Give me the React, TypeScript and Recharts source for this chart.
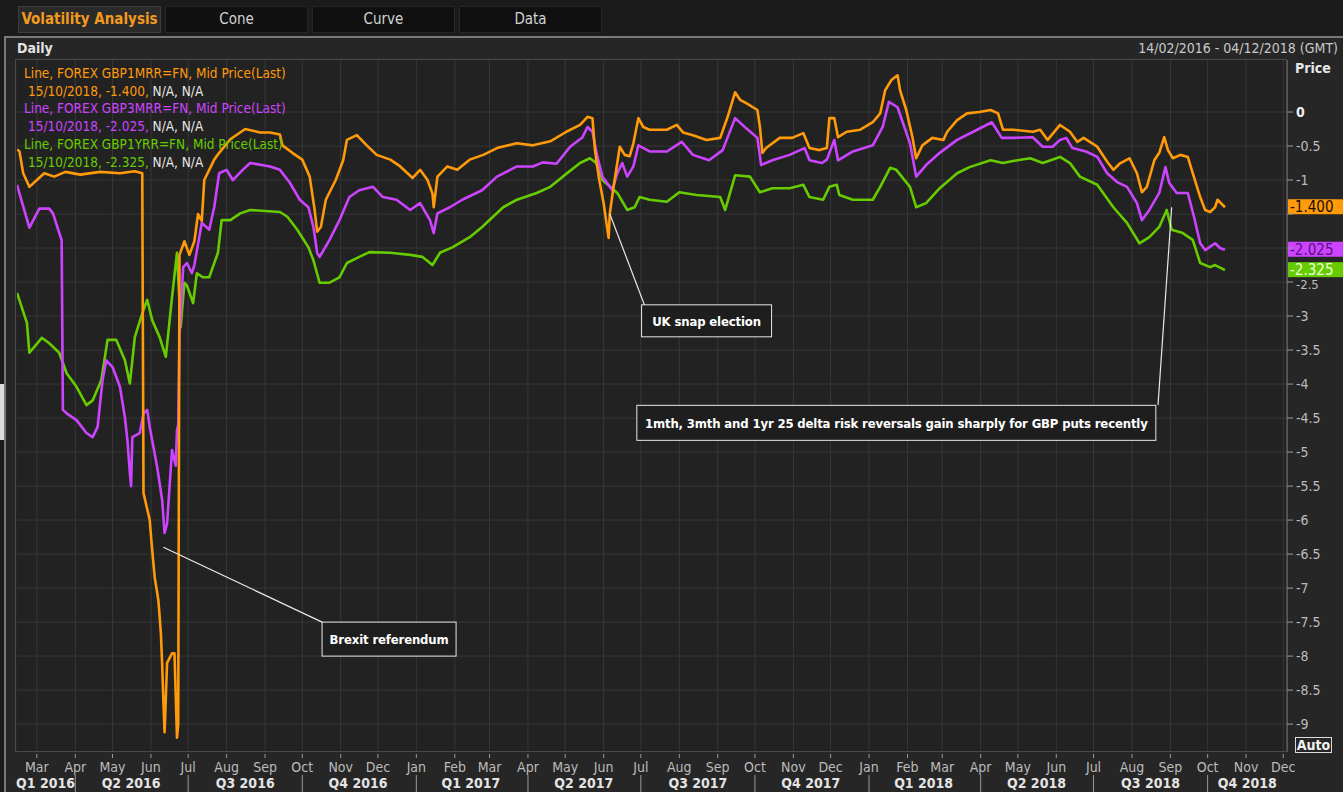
import { LineChart, Line, XAxis, YAxis, CartesianGrid, ReferenceLine, ReferenceDot } from 'recharts';

// GBP 1M risk reversal (FOREX GBP1MRR=FN)
const gbp1mDates = [
    '2016-02-14', '2016-02-16', '2016-02-19', '2016-02-24', '2016-03-01', '2016-03-07', '2016-03-15', '2016-03-24',
    '2016-04-05', '2016-04-21', '2016-05-07', '2016-05-19', '2016-05-25', '2016-05-26', '2016-05-31', '2016-06-02',
    '2016-06-04', '2016-06-07', '2016-06-09', '2016-06-10', '2016-06-11', '2016-06-12', '2016-06-14', '2016-06-18',
    '2016-06-20', '2016-06-22', '2016-06-23', '2016-06-24', '2016-06-28', '2016-07-02', '2016-07-06', '2016-07-09',
    '2016-07-12', '2016-07-14', '2016-07-18', '2016-07-22', '2016-07-26', '2016-08-04', '2016-08-16', '2016-08-28',
    '2016-09-05', '2016-09-13', '2016-09-15', '2016-09-23', '2016-10-01', '2016-10-07', '2016-10-11', '2016-10-13',
    '2016-10-16', '2016-10-20', '2016-10-28', '2016-11-03', '2016-11-06', '2016-11-14', '2016-11-22', '2016-11-30',
    '2016-12-11', '2016-12-19', '2016-12-29', '2017-01-04', '2017-01-10', '2017-01-14', '2017-01-15', '2017-01-18',
    '2017-01-26', '2017-02-03', '2017-02-13', '2017-02-24', '2017-03-07', '2017-03-23', '2017-04-05', '2017-04-19',
    '2017-05-02', '2017-05-13', '2017-05-19', '2017-05-23', '2017-05-25', '2017-05-28', '2017-06-01', '2017-06-05',
    '2017-06-06', '2017-06-09', '2017-06-12', '2017-06-14', '2017-06-18', '2017-06-22', '2017-06-25', '2017-06-29',
    '2017-07-03', '2017-07-08', '2017-07-22', '2017-07-30', '2017-08-04', '2017-08-12', '2017-08-23', '2017-09-03',
    '2017-09-09', '2017-09-15', '2017-09-19', '2017-09-24', '2017-10-03', '2017-10-05', '2017-10-07', '2017-10-10',
    '2017-10-21', '2017-10-31', '2017-11-09', '2017-11-14', '2017-11-22', '2017-11-28', '2017-11-30', '2017-12-04',
    '2017-12-07', '2017-12-14', '2017-12-25', '2018-01-04', '2018-01-10', '2018-01-14', '2018-01-19', '2018-01-24',
    '2018-01-26', '2018-01-31', '2018-02-05', '2018-02-08', '2018-02-13', '2018-02-21', '2018-03-02', '2018-03-05',
    '2018-03-13', '2018-03-21', '2018-03-31', '2018-04-09', '2018-04-15', '2018-04-19', '2018-04-27', '2018-05-13',
    '2018-05-19', '2018-05-25', '2018-06-04', '2018-06-12', '2018-06-18', '2018-06-23', '2018-07-04', '2018-07-12',
    '2018-07-17', '2018-07-22', '2018-07-30', '2018-08-05', '2018-08-09', '2018-08-13', '2018-08-19', '2018-08-23',
    '2018-08-27', '2018-08-30', '2018-09-03', '2018-09-09', '2018-09-15', '2018-09-19', '2018-09-25', '2018-09-29',
    '2018-10-03', '2018-10-07', '2018-10-09', '2018-10-15',
];
const gbp1mValues = [
    -0.55, -0.58, -0.9, -1.1, -1.0, -0.9, -0.95, -0.88,
    -0.92, -0.88, -0.9, -0.87, -0.9, -5.6, -6.0, -6.44,
    -6.84, -7.18, -7.66, -8.1, -8.65, -9.12, -8.1, -7.96,
    -7.96, -9.2, -9.0, -2.1, -1.9, -2.1, -1.9, -1.5,
    -1.6, -1.0, -0.85, -0.7, -0.6, -0.4, -0.25, -0.3,
    -0.3, -0.33, -0.49, -0.6, -0.7, -0.95, -1.44, -1.76,
    -1.69, -1.29, -1.0, -0.71, -0.41, -0.34, -0.49, -0.63,
    -0.7, -0.8, -0.97, -0.85, -1.0, -1.2, -1.4, -0.95,
    -0.8, -0.85, -0.7, -0.63, -0.53, -0.46, -0.49, -0.43,
    -0.29, -0.19, -0.07, -0.09, -0.56, -0.95, -1.34, -1.85,
    -1.49, -1.1, -0.75, -0.51, -0.63, -0.65, -0.46, -0.09,
    -0.22, -0.26, -0.26, -0.19, -0.3, -0.34, -0.41, -0.38,
    -0.07, 0.29, 0.18, 0.13, 0.03, -0.22, -0.6, -0.53,
    -0.38, -0.38, -0.31, -0.53, -0.56, -0.53, -0.09, -0.09,
    -0.37, -0.29, -0.26, -0.15, -0.02, 0.32, 0.47, 0.54,
    0.32, 0.03, -0.37, -0.68, -0.49, -0.38, -0.41, -0.29,
    -0.12, -0.02, 0.0, 0.03, -0.02, -0.26, -0.26, -0.29,
    -0.26, -0.41, -0.19, -0.29, -0.44, -0.38, -0.51, -0.73,
    -0.85, -0.76, -0.68, -0.9, -1.18, -1.1, -0.71, -0.6,
    -0.37, -0.56, -0.68, -0.63, -0.66, -0.9, -1.25, -1.44,
    -1.47, -1.4, -1.29, -1.4,
];

// GBP 3M risk reversal (FOREX GBP3MRR=FN)
const gbp3mDates = [
    '2016-02-14', '2016-02-16', '2016-02-24', '2016-03-03', '2016-03-11', '2016-03-14', '2016-03-20', '2016-03-21',
    '2016-03-22', '2016-03-25', '2016-04-02', '2016-04-10', '2016-04-15', '2016-04-19', '2016-04-23', '2016-04-26',
    '2016-05-01', '2016-05-07', '2016-05-11', '2016-05-13', '2016-05-15', '2016-05-16', '2016-05-17', '2016-05-23',
    '2016-05-26', '2016-05-29', '2016-05-31', '2016-06-06', '2016-06-10', '2016-06-12', '2016-06-14', '2016-06-16',
    '2016-06-18', '2016-06-21', '2016-06-22', '2016-06-23', '2016-06-24', '2016-06-27', '2016-06-30', '2016-07-04',
    '2016-07-06', '2016-07-12', '2016-07-18', '2016-07-22', '2016-07-26', '2016-08-01', '2016-08-06', '2016-08-14',
    '2016-08-20', '2016-09-05', '2016-09-13', '2016-09-21', '2016-09-29', '2016-10-06', '2016-10-10', '2016-10-13',
    '2016-10-15', '2016-10-23', '2016-10-31', '2016-11-08', '2016-11-16', '2016-11-27', '2016-12-05', '2016-12-16',
    '2016-12-27', '2017-01-04', '2017-01-12', '2017-01-15', '2017-01-18', '2017-01-28', '2017-02-07', '2017-02-23',
    '2017-03-07', '2017-03-23', '2017-04-05', '2017-04-13', '2017-04-24', '2017-05-05', '2017-05-15', '2017-05-19',
    '2017-05-23', '2017-05-27', '2017-05-31', '2017-06-08', '2017-06-12', '2017-06-16', '2017-06-20', '2017-06-25',
    '2017-06-29', '2017-07-08', '2017-07-22', '2017-08-03', '2017-08-12', '2017-08-25', '2017-09-05', '2017-09-15',
    '2017-09-24', '2017-10-03', '2017-10-06', '2017-10-15', '2017-10-29', '2017-11-10', '2017-11-14', '2017-11-24',
    '2017-11-28', '2017-12-04', '2017-12-07', '2017-12-19', '2018-01-04', '2018-01-12', '2018-01-17', '2018-01-24',
    '2018-02-03', '2018-02-08', '2018-02-16', '2018-02-27', '2018-03-13', '2018-03-26', '2018-04-10', '2018-04-18',
    '2018-04-27', '2018-05-13', '2018-05-21', '2018-05-29', '2018-06-04', '2018-06-09', '2018-06-14', '2018-06-25',
    '2018-07-04', '2018-07-12', '2018-07-20', '2018-07-28', '2018-08-05', '2018-08-09', '2018-08-15', '2018-08-23',
    '2018-08-28', '2018-08-31', '2018-09-06', '2018-09-15', '2018-09-20', '2018-09-25', '2018-09-29', '2018-10-07',
    '2018-10-11', '2018-10-15',
];
const gbp3mValues = [
    -1.07, -1.2, -1.7, -1.42, -1.42, -1.49, -1.83, -1.88,
    -4.38, -4.43, -4.53, -4.72, -4.78, -4.63, -3.94, -3.65,
    -3.75, -4.04, -4.49, -4.82, -5.31, -5.5, -4.78, -4.72,
    -4.43, -4.38, -4.63, -5.22, -5.7, -6.19, -6.05, -5.51,
    -4.97, -5.2, -4.68, -4.6, -3.3, -2.28, -2.22, -2.37,
    -2.25, -1.63, -1.73, -1.4, -0.9, -0.85, -1.0, -0.85,
    -0.75, -0.8, -0.85, -1.04, -1.29, -1.4, -1.69, -2.07,
    -2.13, -1.88, -1.59, -1.25, -1.15, -1.1, -1.25, -1.29,
    -1.44, -1.34, -1.59, -1.78, -1.49, -1.4, -1.29, -1.15,
    -0.95, -0.8, -0.8, -0.74, -0.76, -0.51, -0.37, -0.22,
    -0.29, -0.66, -0.95, -1.15, -0.9, -0.75, -0.95, -0.8,
    -0.49, -0.58, -0.58, -0.44, -0.63, -0.71, -0.56, -0.09,
    -0.24, -0.38, -0.78, -0.71, -0.63, -0.53, -0.71, -0.75,
    -0.7, -0.41, -0.71, -0.58, -0.49, -0.22, 0.15, 0.07,
    -0.46, -0.95, -0.78, -0.6, -0.41, -0.29, -0.15, -0.38,
    -0.38, -0.37, -0.51, -0.51, -0.41, -0.38, -0.53, -0.58,
    -0.66, -0.9, -1.03, -1.1, -1.34, -1.59, -1.44, -1.19,
    -0.81, -1.04, -1.19, -1.19, -1.54, -1.93, -2.03, -1.93,
    -2.0, -2.025,
];

// GBP 1Y risk reversal (FOREX GBP1YRR=FN)
const gbp1yDates = [
    '2016-02-14', '2016-02-22', '2016-02-24', '2016-03-05', '2016-03-11', '2016-03-19', '2016-03-25', '2016-04-02',
    '2016-04-10', '2016-04-15', '2016-04-22', '2016-04-27', '2016-05-04', '2016-05-11', '2016-05-15', '2016-05-19',
    '2016-05-25', '2016-05-29', '2016-06-02', '2016-06-08', '2016-06-13', '2016-06-18', '2016-06-22', '2016-06-25',
    '2016-06-28', '2016-06-30', '2016-07-05', '2016-07-08', '2016-07-13', '2016-07-18', '2016-07-25', '2016-07-28',
    '2016-08-04', '2016-08-12', '2016-08-20', '2016-09-13', '2016-09-19', '2016-09-27', '2016-10-06', '2016-10-10',
    '2016-10-15', '2016-10-23', '2016-10-31', '2016-11-06', '2016-11-16', '2016-11-24', '2016-12-11', '2016-12-27',
    '2017-01-06', '2017-01-14', '2017-01-20', '2017-01-30', '2017-02-13', '2017-02-23', '2017-03-12', '2017-03-23',
    '2017-04-08', '2017-04-19', '2017-04-29', '2017-05-13', '2017-05-21', '2017-05-26', '2017-05-31', '2017-06-12',
    '2017-06-20', '2017-06-26', '2017-06-30', '2017-07-08', '2017-07-22', '2017-08-01', '2017-08-15', '2017-09-03',
    '2017-09-07', '2017-09-15', '2017-09-27', '2017-10-05', '2017-10-15', '2017-10-29', '2017-11-09', '2017-11-14',
    '2017-11-25', '2017-11-30', '2017-12-06', '2017-12-08', '2017-12-19', '2018-01-04', '2018-01-10', '2018-01-18',
    '2018-01-23', '2018-02-03', '2018-02-08', '2018-02-16', '2018-02-27', '2018-03-13', '2018-03-23', '2018-04-09',
    '2018-04-19', '2018-04-27', '2018-05-11', '2018-05-21', '2018-06-04', '2018-06-12', '2018-06-20', '2018-07-04',
    '2018-07-17', '2018-07-28', '2018-08-07', '2018-08-15', '2018-08-23', '2018-08-29', '2018-09-02', '2018-09-11',
    '2018-09-19', '2018-09-25', '2018-10-03', '2018-10-07', '2018-10-15',
];
const gbp1yValues = [
    -2.66, -3.1, -3.54, -3.32, -3.4, -3.54, -3.84, -4.04,
    -4.31, -4.24, -3.94, -3.35, -3.35, -3.65, -3.99, -3.31,
    -2.96, -2.76, -3.06, -3.31, -3.6, -2.72, -2.07, -3.16,
    -2.51, -2.55, -2.81, -2.37, -2.43, -2.43, -2.07, -1.59,
    -1.59, -1.49, -1.44, -1.47, -1.54, -1.73, -1.99, -2.18,
    -2.51, -2.51, -2.43, -2.22, -2.13, -2.06, -2.07, -2.1,
    -2.13, -2.25, -2.07, -1.99, -1.84, -1.69, -1.4, -1.29,
    -1.19, -1.1, -0.95, -0.75, -0.68, -0.75, -1.0, -1.19,
    -1.44, -1.4, -1.25, -1.29, -1.32, -1.18, -1.22, -1.25,
    -1.44, -0.93, -0.95, -1.18, -1.12, -1.12, -1.07, -1.25,
    -1.29, -1.1, -1.07, -1.22, -1.29, -1.29, -1.1, -0.82,
    -0.85, -1.1, -1.4, -1.34, -1.12, -0.9, -0.81, -0.71,
    -0.75, -0.72, -0.68, -0.75, -0.66, -0.75, -0.95, -1.07,
    -1.4, -1.63, -1.93, -1.84, -1.69, -1.44, -1.73, -1.78,
    -1.88, -2.22, -2.28, -2.25, -2.325,
];

const monthTicks = [
    '2016-03-01', '2016-04-01', '2016-05-01', '2016-06-01', '2016-07-01', '2016-08-01', '2016-09-01', '2016-10-01',
    '2016-11-01', '2016-12-01', '2017-01-01', '2017-02-01', '2017-03-01', '2017-04-01', '2017-05-01', '2017-06-01',
    '2017-07-01', '2017-08-01', '2017-09-01', '2017-10-01', '2017-11-01', '2017-12-01', '2018-01-01', '2018-02-01',
    '2018-03-01', '2018-04-01', '2018-05-01', '2018-06-01', '2018-07-01', '2018-08-01', '2018-09-01', '2018-10-01',
    '2018-11-01', '2018-12-01',
];
const monthNames = ['Jan', 'Feb', 'Mar', 'Apr', 'May', 'Jun', 'Jul', 'Aug', 'Sep', 'Oct', 'Nov', 'Dec'];
const quarterLabels = ['Q1 2016', 'Q2 2016', 'Q3 2016', 'Q4 2016', 'Q1 2017', 'Q2 2017', 'Q3 2017', 'Q4 2017', 'Q1 2018', 'Q2 2018', 'Q3 2018', 'Q4 2018'];
const quarterMids = [
    '2016-03-08', '2016-05-16', '2016-08-16', '2016-11-15', '2017-02-14', '2017-05-16', '2017-08-16', '2017-11-15',
    '2018-02-14', '2018-05-16', '2018-08-16', '2018-11-02',
];
const priceTicks = [0, -0.5, -1, -1.5, -2, -2.5, -3, -3.5, -4, -4.5, -5, -5.5, -6, -6.5, -7, -7.5, -8, -8.5, -9];

const startDate = '2016-02-14';
const endDate = '2018-12-04';

const annotations = [
    { text: 'Brexit referendum', from: ['2016-06-11', -6.4], to: ['2016-10-17', -7.5], at: ['2016-12-10', -7.75], w: 134, h: 34 },
    { text: 'UK snap election', from: ['2017-06-06', -1.5], to: ['2017-07-04', -2.84], at: ['2017-08-23', -3.07], w: 130, h: 32 },
    { text: '1mth, 3mth and 1yr 25 delta risk reversals gain sharply for GBP puts recently', from: ['2018-09-02', -1.4], to: ['2018-08-22', -4.31], at: ['2018-01-23', -4.57], w: 519, h: 35 },
];

const FONT = '"Liberation Sans Narrow", "Arial Narrow", "DejaVu Sans Condensed", sans-serif';
const ORANGE = '#ff9a0a';
const PURPLE = '#cc44ff';
const GREEN = '#66cc00';
const Y_DOMAIN: [number, number] = [-9.41, 0.765];

const ts = (d: string) => Date.parse(d);
const toSeries = (dates: string[], values: number[]) => dates.map((d, i) => ({ t: ts(d), v: values[i] }));

const series = [
    { key: '1y', data: toSeries(gbp1yDates, gbp1yValues), color: GREEN, tagText: '#eaffdc', ric: 'GBP1YRR=FN' },
    { key: '3m', data: toSeries(gbp3mDates, gbp3mValues), color: PURPLE, tagText: '#5a137a', ric: 'GBP3MRR=FN' },
    { key: '1m', data: toSeries(gbp1mDates, gbp1mValues), color: ORANGE, tagText: '#1a1000', ric: 'GBP1MRR=FN' },
];
const legendOrder = [series[2], series[1], series[0]];
const lastValues = series.map((s) => s.data[s.data.length - 1].v);

const monthTs = monthTicks.map(ts);
const quarterTs = quarterMids.map(ts);

const XTick = (props: any) => {
    const { x, y, payload } = props;
    const qi = quarterTs.indexOf(payload.value);
    if (qi >= 0) {
        return (
            <text x={x} y={y + 36} textAnchor="middle" fill="#e4e4e4" fontSize={14} fontWeight="bold" fontFamily={FONT}>
                {quarterLabels[qi]}
            </text>
        );
    }
    const m = new Date(payload.value).getUTCMonth();
    return (
        <g>
            <line x1={x} x2={x} y1={y + 2} y2={y + 6} stroke="#9a9a9a" />
            <text x={x} y={y + 20} textAnchor="middle" fill="#bcbcbc" fontSize={14} fontFamily={FONT}>
                {monthNames[m]}
            </text>
            {m % 3 === 0 && <line x1={x} x2={x} y1={y + 23} y2={y + 40} stroke="#9a9a9a" />}
        </g>
    );
};

// labels sitting right behind a last-value tag are covered in the original
const pxPerUnit = 692 / (Y_DOMAIN[1] - Y_DOMAIN[0]);
const YTick = (props: any) => {
    const { x, y, payload } = props;
    const zero = payload.value === 0;
    const gaps = lastValues.map((v) => (v - payload.value) * pxPerUnit);
    const covered = gaps.some((g) => Math.abs(g) < 9);
    const tagAbove = gaps.some((g) => g > 0 && g < 15);
    return (
        <g>
            <line x1={x} x2={x + 6} y1={y} y2={y} stroke="#9a9a9a" />
            {!covered && (
                <text x={x + 9} y={y + (tagAbove ? 7 : 5)} fill={zero ? '#f0f0f0' : '#bdbdbd'} fontSize={tagAbove ? 13 : 14} fontWeight={zero ? 'bold' : 'normal'} fontFamily={FONT}>
                    {payload.value}
                </text>
            )}
        </g>
    );
};

const AnnotationBox = ({ cx, cy, w, h, text }: any) => (
    <g>
        <rect x={cx - w / 2} y={cy - h / 2} width={w} height={h} fill="#1e1e1e" stroke="#e8e8e8" strokeWidth={1} />
        <text x={cx} y={cy + 5} textAnchor="middle" fill="#ffffff" fontSize={13} letterSpacing={-0.15} fontWeight="bold" fontFamily={FONT}>
            {text}
        </text>
    </g>
);

const ValueTag = ({ cx, cy, color, textColor, label }: any) => (
    <g>
        <rect x={cx + 1} y={cy - 8} width={55} height={15} fill={color} />
        <text x={cx + 3} y={cy + 5} fill={textColor} fontSize={15} fontFamily={FONT}>
            {label}
        </text>
    </g>
);

const tabs = ['Volatility Analysis', 'Cone', 'Curve', 'Data'];

export default function App() {
    return (
        <div style={{ position: 'absolute', left: 0, top: 0, width: 1343, height: 792, background: '#1b1b1b', overflow: 'hidden', fontFamily: FONT }}>
            {tabs.map((t, i) => (
                <div
                    key={t}
                    style={{
                        position: 'absolute', left: 18 + i * 147, top: 6, width: 143, height: 27, boxSizing: 'border-box',
                        background: i === 0 ? '#2a2a2a' : '#101010', border: `1px solid ${i === 0 ? '#3c3c3c' : '#262626'}`,
                        color: i === 0 ? '#f39a1e' : '#d2d2d2', fontWeight: i === 0 ? 'bold' : 'normal',
                        fontSize: 15, lineHeight: '25px', textAlign: 'center',
                    }}
                >
                    {t}
                </div>
            ))}
            <div style={{ position: 'absolute', left: 4, top: 36, width: 1339, height: 756, boxSizing: 'border-box', background: '#262626', borderTop: '2px solid #7a7a7a', borderLeft: '2px solid #7a7a7a' }} />
            <div style={{ position: 'absolute', left: 0, top: 384, width: 4, height: 56, background: '#dcdcdc' }} />
            <div style={{ position: 'absolute', left: 17, top: 40, color: '#e2e2e2', fontSize: 14, fontWeight: 'bold' }}>Daily</div>
            <div style={{ position: 'absolute', right: 5, top: 40, color: '#c8c8c8', fontSize: 14 }}>14/02/2016 - 04/12/2018 (GMT)</div>
            <div style={{ position: 'absolute', left: 1295, top: 60, color: '#e6e6e6', fontSize: 14, fontWeight: 'bold' }}>Price</div>
            <div style={{ position: 'absolute', left: 0, top: 0 }}>
                <LineChart width={1343} height={792} margin={{ top: 60, right: 0, bottom: 0, left: 17 }}>
                    <CartesianGrid fill="#222222" stroke="#373737" verticalValues={monthTs} horizontalValues={priceTicks} />
                    <XAxis
                        dataKey="t"
                        type="number"
                        domain={[ts(startDate), ts(endDate)]}
                        allowDataOverflow
                        ticks={[...monthTs, ...quarterTs]}
                        interval={0}
                        tick={XTick}
                        tickLine={false}
                        axisLine={false}
                        tickSize={0}
                        tickMargin={0}
                        height={40}
                    />
                    <YAxis
                        orientation="right"
                        type="number"
                        domain={Y_DOMAIN}
                        allowDataOverflow
                        ticks={priceTicks}
                        interval={0}
                        tick={YTick}
                        tickLine={false}
                        axisLine={{ stroke: '#8a8a8a' }}
                        tickSize={0}
                        tickMargin={0}
                        width={56}
                    />
                    {series.map((s) => (
                        <Line
                            key={s.key}
                            data={s.data}
                            dataKey="v"
                            type="linear"
                            stroke={s.color}
                            strokeWidth={2.6}
                            strokeLinejoin="round"
                            dot={false}
                            isAnimationActive={false}
                        />
                    ))}
                    {annotations.map((a) => (
                        <ReferenceLine
                            key={`l-${a.text}`}
                            segment={[{ x: ts(a.from[0] as string), y: a.from[1] as number }, { x: ts(a.to[0] as string), y: a.to[1] as number }]}
                            stroke="#e8e8e8"
                            strokeWidth={1.2}
                            ifOverflow="visible"
                        />
                    ))}
                    {annotations.map((a) => (
                        <ReferenceDot
                            key={`b-${a.text}`}
                            x={ts(a.at[0] as string)}
                            y={a.at[1] as number}
                            ifOverflow="visible"
                            shape={(p: any) => <AnnotationBox cx={p.cx} cy={p.cy} w={a.w} h={a.h} text={a.text} />}
                        />
                    ))}
                    {series.map((s, i) => (
                        <ReferenceDot
                            key={`tag-${s.key}`}
                            x={ts(endDate)}
                            y={lastValues[i]}
                            ifOverflow="visible"
                            shape={(p: any) => <ValueTag cx={p.cx} cy={p.cy} color={s.color} textColor={s.tagText} label={lastValues[i].toFixed(3)} />}
                        />
                    ))}
                </LineChart>
            </div>
            <div style={{ position: 'absolute', left: 15, top: 59, width: 1272, height: 693, boxSizing: 'border-box', border: '1px solid #4a4a4a', pointerEvents: 'none' }} />
            <div style={{ position: 'absolute', left: 24, top: 65, fontSize: 13.5, lineHeight: '17.7px', whiteSpace: 'pre' }}>
                {legendOrder.map((s) => {
                    const last = s.data[s.data.length - 1].v;
                    return (
                        <div key={s.key}>
                            <div style={{ color: s.color }}>Line, FOREX {s.ric}, Mid Price(Last)</div>
                            <div style={{ color: s.color, paddingLeft: 4 }}>
                                15/10/2018, {last.toFixed(3)}, <span style={{ color: '#e6e6e6' }}>N/A, N/A</span>
                            </div>
                        </div>
                    );
                })}
            </div>
            <div style={{ position: 'absolute', left: 1295, top: 737, width: 37, height: 16, boxSizing: 'border-box', border: '1px solid #dcdcdc', color: '#f2f2f2', fontSize: 14, fontWeight: 'bold', lineHeight: '14px', textAlign: 'center' }}>
                Auto
            </div>
        </div>
    );
}
